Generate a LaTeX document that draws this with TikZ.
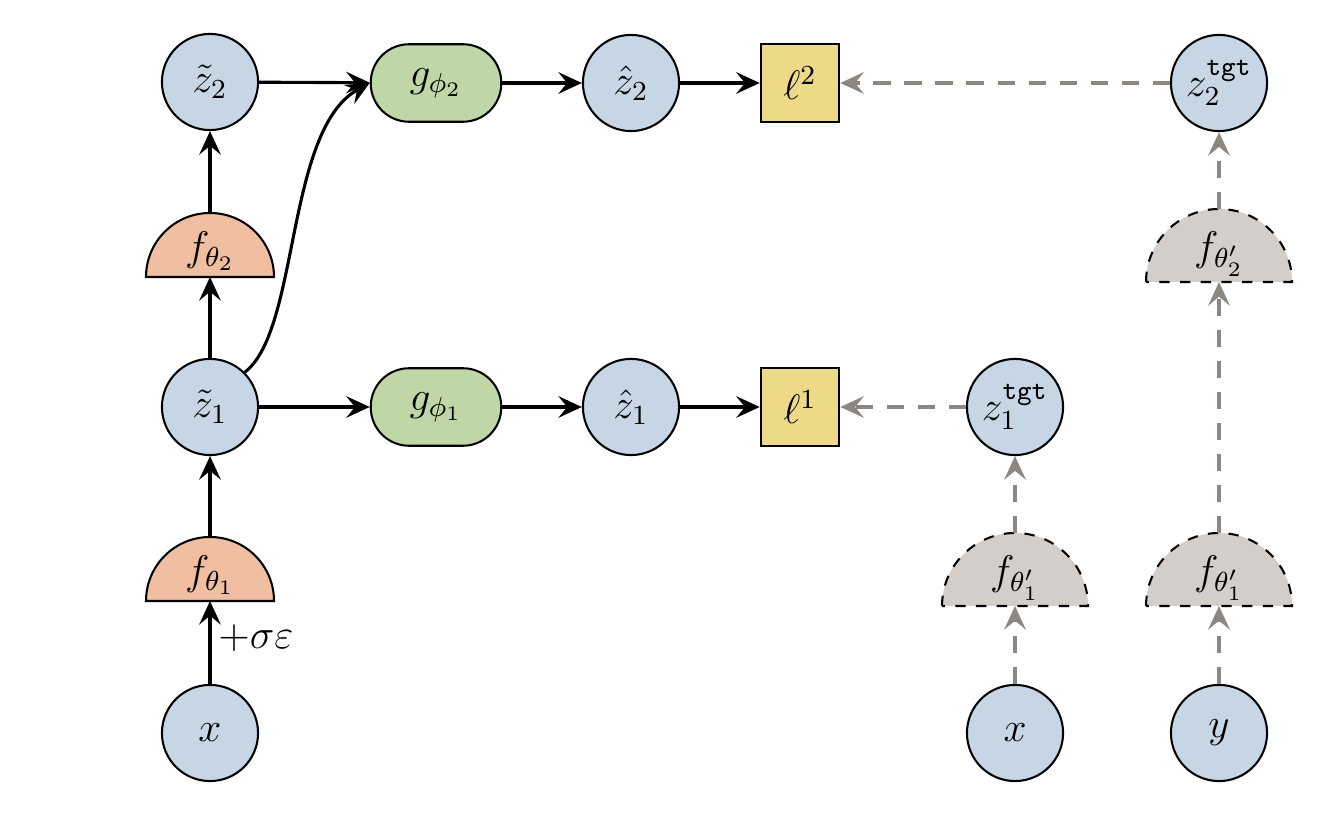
\documentclass[tikz,border=0pt]{standalone}
\usetikzlibrary{arrows.meta}
\definecolor{cblue}{RGB}{198,214,229}
\definecolor{corange}{RGB}{240,190,160}
\definecolor{cgreen}{RGB}{191,214,166}
\definecolor{cyellow}{RGB}{236,218,137}
\definecolor{cgray}{RGB}{211,206,201}
\definecolor{dgray}{RGB}{140,135,130}
\begin{document}
\begin{tikzpicture}[x=0.0102cm,y=-0.0102cm,font=\large,
  var/.style={circle,draw,line width=0.6pt,fill=cblue,minimum size=0.98cm,inner sep=0pt},
  gnode/.style={rounded corners=0.39cm,draw,line width=0.6pt,fill=cgreen,minimum width=1.33cm,minimum height=0.79cm},
  loss/.style={draw,line width=0.6pt,fill=cyellow,minimum size=0.8cm,inner sep=0pt},
  arr/.style={line width=0.9pt,-{Stealth[length=2.4mm,width=2.2mm,inset=0.9mm]}},
  darr/.style={arr,draw=dgray,dashed,dash pattern=on 5pt off 4pt},
  lbl/.style={inner sep=0pt}]
\useasboundingbox (0,0) rectangle (1327,815);
\newcommand{\semi}[5]{%
  \filldraw[fill=#4,line width=0.6pt] (#1-#3,#2) arc[start angle=180,end angle=0,radius=#3*0.0102cm] -- cycle;
  \coordinate (#5t) at (#1,#2-#3); \coordinate (#5b) at (#1,#2);}
\newcommand{\dsemi}[5]{%
  \fill[#4] (#1-#3,#2) arc[start angle=180,end angle=0,radius=#3*0.0102cm] -- cycle;
  \draw[dashed,line width=0.6pt] (#1-#3,#2) arc[start angle=180,end angle=0,radius=#3*0.0102cm] -- cycle;
  \coordinate (#5t) at (#1,#2-#3); \coordinate (#5b) at (#1,#2);}
\semi{210}{601}{64}{corange}{fa}
\semi{210}{277}{64}{corange}{fb}
\dsemi{1015}{606}{73}{cgray}{fc}
\dsemi{1219}{606}{73}{cgray}{fd}
\dsemi{1219}{282}{73}{cgray}{fe}
\node[lbl] (fal) at (210,575) {$f_{\theta_1}$};
\node[lbl] (fbl) at (210,251) {$f_{\theta_2}$};
\node[lbl] (fcl) at (1015,578) {$f_{\theta'_1}$};
\node[lbl] (fdl) at (1219,578) {$f_{\theta'_1}$};
\node[lbl] (fel) at (1219,254) {$f_{\theta'_2}$};
\node[var] (x) at (210,733) {$x$};
\node[var] (z1) at (210,407) {$\tilde z_1$};
\node[var] (z2) at (210,82) {$\tilde z_2$};
\node[gnode] (g1) at (436,407) {$g_{\phi_1}$};
\node[gnode] (g2) at (436,83) {$g_{\phi_2}$};
\node[var] (h1) at (631,407) {$\hat z_1$};
\node[var] (h2) at (631,83) {$\hat z_2$};
\node[loss] (l1) at (800,407) {$\ell^1$};
\node[loss] (l2) at (800,83) {$\ell^2$};
\node[var] (t1) at (1015,407) {$z_1^{\mathtt{tgt}}$};
\node[var] (t2) at (1219,83) {$z_2^{\mathtt{tgt}}$};
\node[var] (xr) at (1015,733) {$x$};
\node[var] (y) at (1219,733) {$y$};
\draw[arr] (x) -- node[right,pos=0.55,inner sep=2pt]{$+\sigma\varepsilon$} (fab);
\draw[arr] (fat) -- (z1);
\draw[arr] (z1) -- (fbb);
\draw[arr] (fbt) -- (z2);
\draw[arr] (z2) -- (g2);
\draw[arr] (z1) -- (g1);
\draw[arr] (g1) -- (h1);
\draw[arr] (g2) -- (h2);
\draw[arr] (h1) -- (l1);
\draw[arr] (h2) -- (l2);
\draw[arr] (z1.north east) .. controls (300,330) and (285,130) .. (g2.west);
\draw[darr] (xr) -- (fcb);
\draw[darr] (fct) -- (t1);
\draw[darr] (y) -- (fdb);
\draw[darr] (fdt) -- (feb);
\draw[darr] (fet) -- (t2);
\draw[darr] (t1) -- (l1);
\draw[darr] (t2) -- (l2);
\end{tikzpicture}
\end{document}
